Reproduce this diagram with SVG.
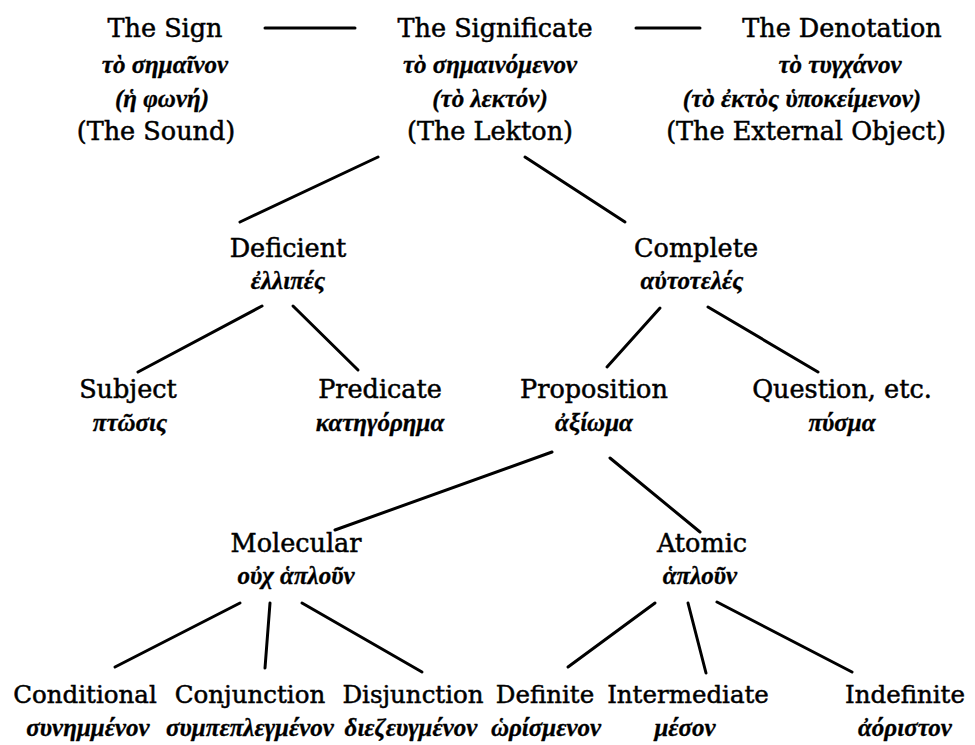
<svg xmlns="http://www.w3.org/2000/svg" width="975" height="745" viewBox="0 0 975 745">
<style>
.en{font-family:"DejaVu Serif","Liberation Serif",serif;font-size:25.5px;fill:#000;stroke:#000;stroke-width:0.5;text-anchor:middle}
.sm{font-size:24.5px}
.gr{font-family:"Liberation Serif","DejaVu Serif",serif;font-size:25px;font-style:italic;font-weight:bold;fill:#000;stroke:#000;stroke-width:0.3;text-anchor:middle}
.ln{stroke:#000;stroke-width:3;stroke-linecap:round;fill:none}
</style>
<rect width="975" height="745" fill="#fff"/>
<g id="connectors">
<line class="ln" x1="265" y1="28" x2="355" y2="28"/>
<line class="ln" x1="636" y1="28" x2="700" y2="28"/>
<line class="ln" x1="378" y1="157" x2="240" y2="222"/>
<line class="ln" x1="525" y1="157" x2="625" y2="222"/>
<line class="ln" x1="262" y1="306" x2="138" y2="372"/>
<line class="ln" x1="293" y1="306" x2="358" y2="370"/>
<line class="ln" x1="660" y1="308" x2="607" y2="367"/>
<line class="ln" x1="708" y1="307" x2="818" y2="372"/>
<line class="ln" x1="552" y1="452" x2="335" y2="530"/>
<line class="ln" x1="610" y1="458" x2="700" y2="532"/>
<line class="ln" x1="240" y1="603" x2="115" y2="667"/>
<line class="ln" x1="270" y1="603" x2="265" y2="668"/>
<line class="ln" x1="302" y1="603" x2="422" y2="672"/>
<line class="ln" x1="655" y1="603" x2="568" y2="667"/>
<line class="ln" x1="688" y1="603" x2="706" y2="673"/>
<line class="ln" x1="717" y1="602" x2="852" y2="672"/>
</g>
<g id="sign">
<text class="en" x="165" y="37">The Sign</text>
<text class="gr" x="165" y="73">τὸ σημαῖνον</text>
<text class="gr" x="162" y="107">(ἡ φωνή)</text>
<text class="en" x="156" y="140">(The Sound)</text>
</g>
<g id="significate">
<text class="en" x="495" y="37">The Significate</text>
<text class="gr" x="490" y="73">τὸ σημαινόμενον</text>
<text class="gr" x="490" y="107">(τὸ λεκτόν)</text>
<text class="en" x="490" y="140">(The Lekton)</text>
</g>
<g id="denotation">
<text class="en" x="842" y="37">The Denotation</text>
<text class="gr" x="840" y="73">τὸ τυγχάνον</text>
<text class="gr" x="802" y="107">(τὸ ἐκτὸς ὑποκείμενον)</text>
<text class="en" x="806" y="140">(The External Object)</text>
</g>
<g id="deficient">
<text class="en" x="288" y="257">Deficient</text>
<text class="gr" x="288" y="289">ἐλλιπές</text>
</g>
<g id="complete">
<text class="en" x="696" y="257">Complete</text>
<text class="gr" x="692" y="289">αὐτοτελές</text>
</g>
<g id="subject">
<text class="en" x="128" y="398">Subject</text>
<text class="gr" x="130" y="431">πτῶσις</text>
</g>
<g id="predicate">
<text class="en" x="380" y="398">Predicate</text>
<text class="gr" x="380" y="431">κατηγόρημα</text>
</g>
<g id="proposition">
<text class="en" x="594" y="398">Proposition</text>
<text class="gr" x="594" y="431">ἀξίωμα</text>
</g>
<g id="question">
<text class="en" x="842" y="398">Question, etc.</text>
<text class="gr" x="842" y="431">πύσμα</text>
</g>
<g id="molecular">
<text class="en" x="296" y="552">Molecular</text>
<text class="gr" x="296" y="584">οὐχ ἁπλοῦν</text>
</g>
<g id="atomic">
<text class="en" x="702" y="552">Atomic</text>
<text class="gr" x="700" y="584">ἁπλοῦν</text>
</g>
<g id="conditional">
<text class="en sm" x="85" y="703">Conditional</text>
<text class="gr" x="88" y="736">συνημμένον</text>
</g>
<g id="conjunction">
<text class="en sm" x="250" y="703">Conjunction</text>
<text class="gr" x="250" y="736">συμπεπλεγμένον</text>
</g>
<g id="disjunction">
<text class="en sm" x="413" y="703">Disjunction</text>
<text class="gr" x="411" y="736">διεζευγμένον</text>
</g>
<g id="definite">
<text class="en sm" x="545" y="703">Definite</text>
<text class="gr" x="546" y="736">ὡρίσμενον</text>
</g>
<g id="intermediate">
<text class="en sm" x="688" y="703">Intermediate</text>
<text class="gr" x="685" y="736">μέσον</text>
</g>
<g id="indefinite">
<text class="en sm" x="905" y="703">Indefinite</text>
<text class="gr" x="905" y="736">ἀόριστον</text>
</g>
</svg>
